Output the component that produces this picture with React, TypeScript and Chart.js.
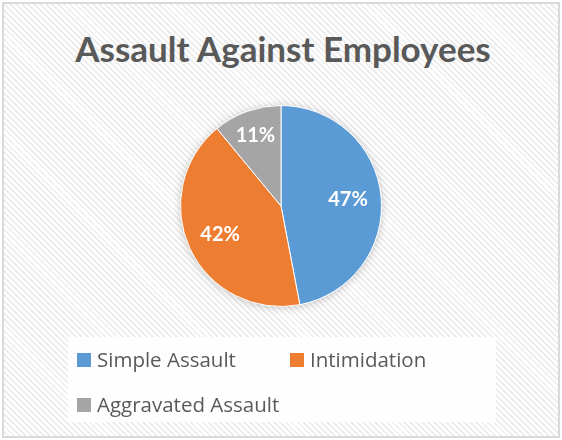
import React, { useEffect, useRef } from "react";
import { Chart, registerables } from "chart.js";

Chart.register(...registerables);

const TITLE = "Assault Against Employees";
const categories = ["Simple Assault", "Intimidation", "Aggravated Assault"];
const values = [47, 42, 11];
const colors = ["#5B9BD5", "#ED7D31", "#A5A5A5"];
const labelRadiusFrac = [0.67, 0.67, 0.75];

const W = 562;
const H = 440;

const shadowPlugin = {
  id: "pieShadow",
  beforeDatasetsDraw(chart: any) {
    const meta = chart.getDatasetMeta(0);
    const arc = meta.data[0];
    if (!arc) return;
    const { x, y, outerRadius } = arc.getProps(["x", "y", "outerRadius"], true);
    const ctx = chart.ctx;
    ctx.save();
    ctx.shadowColor = "rgba(0,0,0,0.28)";
    ctx.shadowBlur = 10;
    ctx.shadowOffsetX = 0;
    ctx.shadowOffsetY = 1;
    ctx.beginPath();
    ctx.arc(x, y, outerRadius - 1, 0, Math.PI * 2);
    ctx.fillStyle = "#ffffff";
    ctx.fill();
    ctx.restore();
  },
};

const labelPlugin = {
  id: "pieLabels",
  afterDatasetsDraw(chart: any) {
    const meta = chart.getDatasetMeta(0);
    const data = chart.data.datasets[0].data as number[];
    const total = data.reduce((a, b) => a + b, 0);
    const ctx = chart.ctx;
    ctx.save();
    ctx.font = "bold 20px Lato, 'Open Sans', sans-serif";
    ctx.fillStyle = "#ffffff";
    ctx.textAlign = "center";
    ctx.textBaseline = "middle";
    meta.data.forEach((arc: any, i: number) => {
      const p = arc.getProps(["x", "y", "startAngle", "endAngle", "outerRadius"], true);
      const mid = (p.startAngle + p.endAngle) / 2;
      const r = p.outerRadius * labelRadiusFrac[i];
      const tx = p.x + Math.cos(mid) * r;
      const ty = p.y + Math.sin(mid) * r;
      ctx.fillText(Math.round((data[i] / total) * 100) + "%", tx, ty);
    });
    ctx.restore();
  },
};

export default function App() {
  const ref = useRef<HTMLCanvasElement | null>(null);

  useEffect(() => {
    if (!ref.current) return;
    const chart = new Chart(ref.current, {
      type: "pie",
      data: {
        labels: categories,
        datasets: [
          {
            data: values,
            backgroundColor: colors,
            borderColor: "#ffffff",
            borderWidth: 1,
          },
        ],
      },
      options: {
        responsive: false,
        animation: false,
        devicePixelRatio: 1,
        layout: { padding: { top: 105, bottom: 133, left: 0, right: 0 } },
        plugins: {
          legend: { display: false },
          title: { display: false },
          tooltip: { enabled: false },
        },
      },
      plugins: [shadowPlugin, labelPlugin],
    });
    return () => chart.destroy();
  }, []);

  const legendRows = [
    [0, 1],
    [2],
  ];

  return (
    <div
      style={{
        position: "absolute",
        left: 0,
        top: 0,
        width: W,
        height: H,
        background: "#ffffff",
        overflow: "hidden",
      }}
    >
      <div
        style={{
          position: "absolute",
          left: 2,
          top: 2,
          width: 558,
          height: 436,
          boxSizing: "border-box",
          border: "2px solid #d9d9d9",
          backgroundColor: "#ffffff",
          backgroundImage:
            "repeating-linear-gradient(45deg, #ffffff 0px, #ffffff 2.2px, #eeeeee 2.2px, #eeeeee 4.2px)",
        }}
      />
      <div
        style={{
          position: "absolute",
          left: 0,
          top: 27,
          width: W + 4,
          textAlign: "center",
          fontFamily: "Lato, 'Open Sans', sans-serif",
          fontWeight: 700,
          fontSize: 35,
          lineHeight: "42px",
          color: "#595959",
          whiteSpace: "nowrap",
        }}
      >
        {TITLE}
      </div>
      <canvas
        ref={ref}
        width={W}
        height={H}
        style={{ position: "absolute", left: 0, top: 0, width: W, height: H }}
      />
      <div
        style={{
          position: "absolute",
          left: 68,
          top: 337,
          width: 428,
          height: 85,
          background: "rgba(255,255,255,0.85)",
        }}
      />
      {legendRows.map((row, ri) =>
        row.map((idx, ci) => (
          <div
            key={idx}
            style={{
              position: "absolute",
              left: ci === 0 ? 77 : 290,
              top: 344 + ri * 45,
              height: 30,
              display: "flex",
              alignItems: "center",
              fontFamily: "'Open Sans', Lato, sans-serif",
              fontSize: 20.5,
              color: "#595959",
              whiteSpace: "nowrap",
            }}
          >
            <span
              style={{
                display: "inline-block",
                width: 14,
                height: 14,
                background: colors[idx],
                marginRight: 6,
                marginTop: 2,
              }}
            />
            <span>{categories[idx]}</span>
          </div>
        ))
      )}
    </div>
  );
}
